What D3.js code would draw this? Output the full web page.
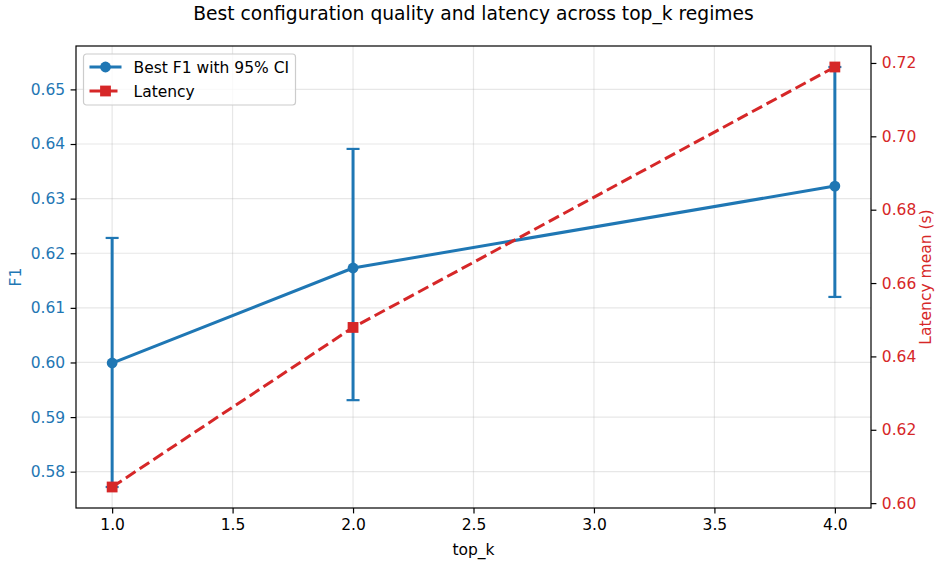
<!DOCTYPE html>
<html>
<head>
<meta charset="utf-8">
<script src="https://cdn.jsdelivr.net/npm/d3@7"></script>
<style>
	body { margin: 0; background: #fff; }
	svg text { font-family: "DejaVu Sans", sans-serif; }
</style>
</head>
<body>
<div id="chart"></div>
<script>
// values
var topK = [1, 2, 4];
var f1Mean = [0.5999, 0.6173, 0.6323];
var f1Low = [0.5772, 0.5931, 0.6120];
var f1High = [0.6228, 0.6391, 0.6541];
var latency = [0.6044, 0.6479, 0.7189];
var xTicks = [1.0, 1.5, 2.0, 2.5, 3.0, 3.5, 4.0];
var f1Ticks = [0.58, 0.59, 0.60, 0.61, 0.62, 0.63, 0.64, 0.65];
var latTicks = [0.60, 0.62, 0.64, 0.66, 0.68, 0.70, 0.72];

var blue = "#1f77b4",
	red = "#d62728",
	width = 935,
	height = 561,
	margin = { top: 46, right: 64, bottom: 53, left: 76 },
	plotW = width - margin.left - margin.right,
	plotH = height - margin.top - margin.bottom,
	fs = "15.5px",
	dash = "11.5,5";

// matplotlib style 5% padding
function padded(lo, hi) {
	var r = hi - lo;
	return [lo - 0.05 * r, hi + 0.05 * r];
}

var x = d3.scaleLinear().domain(padded(d3.min(topK), d3.max(topK))).range([0, plotW]);
var yF1 = d3.scaleLinear().domain(padded(d3.min(f1Low), d3.max(f1High))).range([plotH, 0]);
var yLat = d3.scaleLinear().domain(padded(d3.min(latency), d3.max(latency))).range([plotH, 0]);

var svg = d3.select("#chart").append("svg")
	.attr("width", width)
	.attr("height", height);

svg.append("text")
	.attr("x", margin.left + plotW / 2)
	.attr("y", 19.5)
	.attr("text-anchor", "middle")
	.attr("font-size", "18.7px")
	.attr("fill", "#000")
	.text("Best configuration quality and latency across top_k regimes");

var g = svg.append("g").attr("transform", "translate(" + margin.left + "," + margin.top + ")");

// grid
g.append("g").selectAll("line.vgrid")
	.data(xTicks).enter().append("line")
	.attr("x1", function (d) { return x(d); })
	.attr("x2", function (d) { return x(d); })
	.attr("y1", 0).attr("y2", plotH)
	.attr("stroke", "#b0b0b0").attr("stroke-opacity", 0.3).attr("stroke-width", 1.2);
g.append("g").selectAll("line.hgrid")
	.data(f1Ticks).enter().append("line")
	.attr("y1", function (d) { return yF1(d); })
	.attr("y2", function (d) { return yF1(d); })
	.attr("x1", 0).attr("x2", plotW)
	.attr("stroke", "#b0b0b0").attr("stroke-opacity", 0.3).attr("stroke-width", 1.2);

// axes
function styleAxis(sel, color) {
	sel.selectAll(".domain").remove();
	sel.selectAll(".tick line").attr("stroke", "#000").attr("stroke-width", 1.2);
	sel.selectAll(".tick text").attr("fill", color).attr("font-size", fs)
		.attr("font-family", "DejaVu Sans, sans-serif");
}

var xAxis = g.append("g")
	.attr("transform", "translate(0," + plotH + ")")
	.call(d3.axisBottom(x).tickValues(xTicks).tickFormat(d3.format(".1f")).tickSize(5.4).tickPadding(5.4));
styleAxis(xAxis, "#000");

var yAxisL = g.append("g")
	.call(d3.axisLeft(yF1).tickValues(f1Ticks).tickFormat(d3.format(".2f")).tickSize(5.4).tickPadding(5.4));
styleAxis(yAxisL, blue);

var yAxisR = g.append("g")
	.attr("transform", "translate(" + plotW + ",0)")
	.call(d3.axisRight(yLat).tickValues(latTicks).tickFormat(d3.format(".2f")).tickSize(5.4).tickPadding(5.4));
styleAxis(yAxisR, red);

g.append("rect")
	.attr("width", plotW).attr("height", plotH)
	.attr("fill", "none").attr("stroke", "#000").attr("stroke-width", 1.2);

// axis labels
svg.append("text")
	.attr("transform", "translate(21," + (margin.top + plotH / 2) + ") rotate(-90)")
	.attr("text-anchor", "middle")
	.attr("font-size", fs)
	.attr("fill", blue)
	.text("F1");
svg.append("text")
	.attr("transform", "translate(931," + (margin.top + plotH / 2) + ") rotate(-90)")
	.attr("text-anchor", "middle")
	.attr("font-size", fs)
	.attr("fill", red)
	.text("Latency mean (s)");
svg.append("text")
	.attr("x", margin.left + plotW / 2)
	.attr("y", 555)
	.attr("text-anchor", "middle")
	.attr("font-size", fs)
	.attr("fill", "#000")
	.text("top_k");

// F1 series with error bars
var f1Data = topK.map(function (k, i) {
	return { k: k, mean: f1Mean[i], lo: f1Low[i], hi: f1High[i] };
});

var bars = g.append("g").selectAll("g.err")
	.data(f1Data).enter().append("g").attr("class", "err");
bars.append("line")
	.attr("x1", function (d) { return x(d.k); })
	.attr("x2", function (d) { return x(d.k); })
	.attr("y1", function (d) { return yF1(d.lo); })
	.attr("y2", function (d) { return yF1(d.hi); })
	.attr("stroke", blue).attr("stroke-width", 3);
["lo", "hi"].forEach(function (key) {
	bars.append("line")
		.attr("x1", function (d) { return x(d.k) - 6.5; })
		.attr("x2", function (d) { return x(d.k) + 6.5; })
		.attr("y1", function (d) { return yF1(d[key]); })
		.attr("y2", function (d) { return yF1(d[key]); })
		.attr("stroke", blue).attr("stroke-width", 2.2);
});

g.append("path")
	.datum(f1Data)
	.attr("fill", "none")
	.attr("stroke", blue)
	.attr("stroke-width", 3)
	.attr("stroke-linejoin", "round")
	.attr("d", d3.line().x(function (d) { return x(d.k); }).y(function (d) { return yF1(d.mean); }));

g.append("g").selectAll("circle")
	.data(f1Data).enter().append("circle")
	.attr("cx", function (d) { return x(d.k); })
	.attr("cy", function (d) { return yF1(d.mean); })
	.attr("r", 5.4)
	.attr("fill", blue);

// latency series
var latData = topK.map(function (k, i) { return { k: k, v: latency[i] }; });

g.append("path")
	.datum(latData)
	.attr("fill", "none")
	.attr("stroke", red)
	.attr("stroke-width", 3)
	.attr("stroke-dasharray", dash)
	.attr("d", d3.line().x(function (d) { return x(d.k); }).y(function (d) { return yLat(d.v); }));

g.append("g").selectAll("rect.sq")
	.data(latData).enter().append("rect")
	.attr("x", function (d) { return x(d.k) - 5.4; })
	.attr("y", function (d) { return yLat(d.v) - 5.4; })
	.attr("width", 10.8).attr("height", 10.8)
	.attr("fill", red);

// legend
var legend = svg.append("g").attr("transform", "translate(83.5,54)");
legend.append("rect")
	.attr("width", 212).attr("height", 51)
	.attr("rx", 3)
	.attr("fill", "#fff").attr("fill-opacity", 0.8)
	.attr("stroke", "#cccccc").attr("stroke-width", 1.2);

var legendItems = [
	{ label: "Best F1 with 95% CI", color: blue, dash: null, mark: "circle" },
	{ label: "Latency", color: red, dash: dash, mark: "square" }
];
var rows = legend.selectAll("g.item")
	.data(legendItems).enter().append("g")
	.attr("class", "item")
	.attr("transform", function (d, i) { return "translate(0," + (13 + i * 24) + ")"; });
rows.append("line")
	.attr("x1", 6).attr("x2", 38)
	.attr("stroke", function (d) { return d.color; })
	.attr("stroke-width", 3)
	.attr("stroke-dasharray", function (d) { return d.dash; });
rows.filter(function (d) { return d.mark == "circle"; })
	.append("circle").attr("cx", 22).attr("r", 5.4).attr("fill", blue);
rows.filter(function (d) { return d.mark == "square"; })
	.append("rect").attr("x", 16.6).attr("y", -5.4).attr("width", 10.8).attr("height", 10.8).attr("fill", red);
rows.append("text")
	.attr("x", 50).attr("y", 5.5)
	.attr("font-size", fs)
	.attr("fill", "#000")
	.text(function (d) { return d.label; });
</script>
</body>
</html>
